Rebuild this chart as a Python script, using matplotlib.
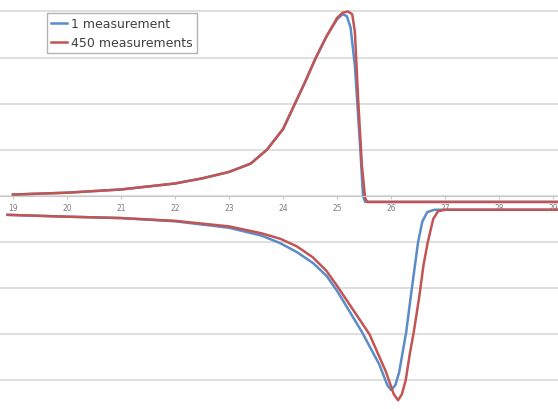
import matplotlib
matplotlib.use('Agg')
import matplotlib.pyplot as plt

# Upper trace (x, value) for each series
top_x_1 = [19.0, 20.0, 21.0, 22.0, 22.5, 23.0, 23.4, 23.7, 24.0, 24.2, 24.4, 24.6, 24.8,
           25.0, 25.1, 25.18, 25.25, 25.33, 25.43, 25.48, 25.52, 29.1]
top_y_1 = [0.03, 0.07, 0.14, 0.27, 0.38, 0.52, 0.70, 1.00, 1.45, 1.95, 2.45, 2.98, 3.45,
           3.83, 3.94, 3.90, 3.65, 2.82, 1.02, 0.0, -0.13, -0.13]

top_x_450 = [19.0, 20.0, 21.0, 22.0, 22.5, 23.0, 23.4, 23.7, 24.0, 24.2, 24.4, 24.6, 24.8,
             25.0, 25.1, 25.2, 25.28, 25.33, 25.39, 25.46, 25.52, 25.56, 29.1]
top_y_450 = [0.03, 0.07, 0.14, 0.27, 0.38, 0.52, 0.70, 1.00, 1.45, 1.95, 2.45, 2.98, 3.45,
             3.86, 3.97, 4.00, 3.94, 3.56, 2.10, 0.65, -0.05, -0.13, -0.13]

# Lower trace
bot_x_1 = [18.9, 20.0, 21.0, 22.0, 23.0, 23.6, 23.94, 24.26, 24.56, 24.81, 25.0, 25.1,
           25.46, 25.78, 25.93, 26.0, 26.08, 26.15, 26.28, 26.37, 26.5, 26.58, 26.67, 26.8, 29.1]
bot_y_1 = [-0.41, -0.45, -0.48, -0.55, -0.69, -0.86, -1.02, -1.22, -1.46, -1.74, -2.06, -2.25,
           -2.95, -3.65, -4.1, -4.21, -4.1, -3.82, -2.95, -2.13, -1.0, -0.55, -0.35, -0.30, -0.30]

bot_x_450 = [18.9, 20.0, 21.0, 22.0, 23.0, 23.6, 23.95, 24.25, 24.55, 24.8, 25.0, 25.2,
             25.6, 25.9, 26.05, 26.13, 26.2, 26.27, 26.35, 26.42, 26.52, 26.6, 26.68, 26.78,
             26.87, 27.0, 29.1]
bot_y_450 = [-0.41, -0.45, -0.48, -0.54, -0.66, -0.81, -0.93, -1.09, -1.33, -1.62, -1.95, -2.30,
             -3.0, -3.8, -4.3, -4.43, -4.3, -4.0, -3.4, -2.95, -2.2, -1.5, -1.0, -0.5,
             -0.33, -0.30, -0.30]

x_ticks = [19, 20, 21, 22, 23, 24, 25, 26, 27, 28, 29]
grid_levels = [-4, -3, -2, -1, 0, 1, 2, 3, 4]

blue = '#5a8cc8'
red = '#c25553'

fig = plt.figure(figsize=(5.58, 4.10), dpi=100)
ax = fig.add_axes([0, 0, 1, 1])

# Gridlines
for g in grid_levels:
    ax.axhline(g, color='#dcdcdc', lw=1.3, zorder=0)

ax.plot(top_x_1, top_y_1, color=blue, lw=1.8, label='1 measurement')
ax.plot(top_x_450, top_y_450, color=red, lw=1.8, label='450 measurements')
ax.plot(bot_x_1, bot_y_1, color=blue, lw=1.8)
ax.plot(bot_x_450, bot_y_450, color=red, lw=1.8)

ax.set_xlim(18.76, 29.09)
ax.set_ylim(-4.62, 4.27)

for s in ['top', 'right', 'left']:
    ax.spines[s].set_visible(False)
ax.spines['bottom'].set_position(('data', 0))
ax.spines['bottom'].set_color('#c8c8c8')
ax.set_yticks([])
ax.set_xticks(x_ticks)
ax.set_xticklabels([str(t) for t in x_ticks])
ax.tick_params(axis='x', length=2, color='#c8c8c8', pad=3, labelsize=5.5, labelcolor='#7f7f7f')

leg = ax.legend(loc='upper left', bbox_to_anchor=(0.084, 0.966), borderaxespad=0,
                fontsize=9, frameon=True, fancybox=False, handlelength=1.3,
                handletextpad=0.25, borderpad=0.35, labelspacing=0.45)
leg.get_frame().set_edgecolor('#a0a0a0')
leg.get_frame().set_linewidth(1.0)
for t in leg.get_texts():
    t.set_color('#404040')

plt.savefig('out.png', dpi=100)
plt.close()
